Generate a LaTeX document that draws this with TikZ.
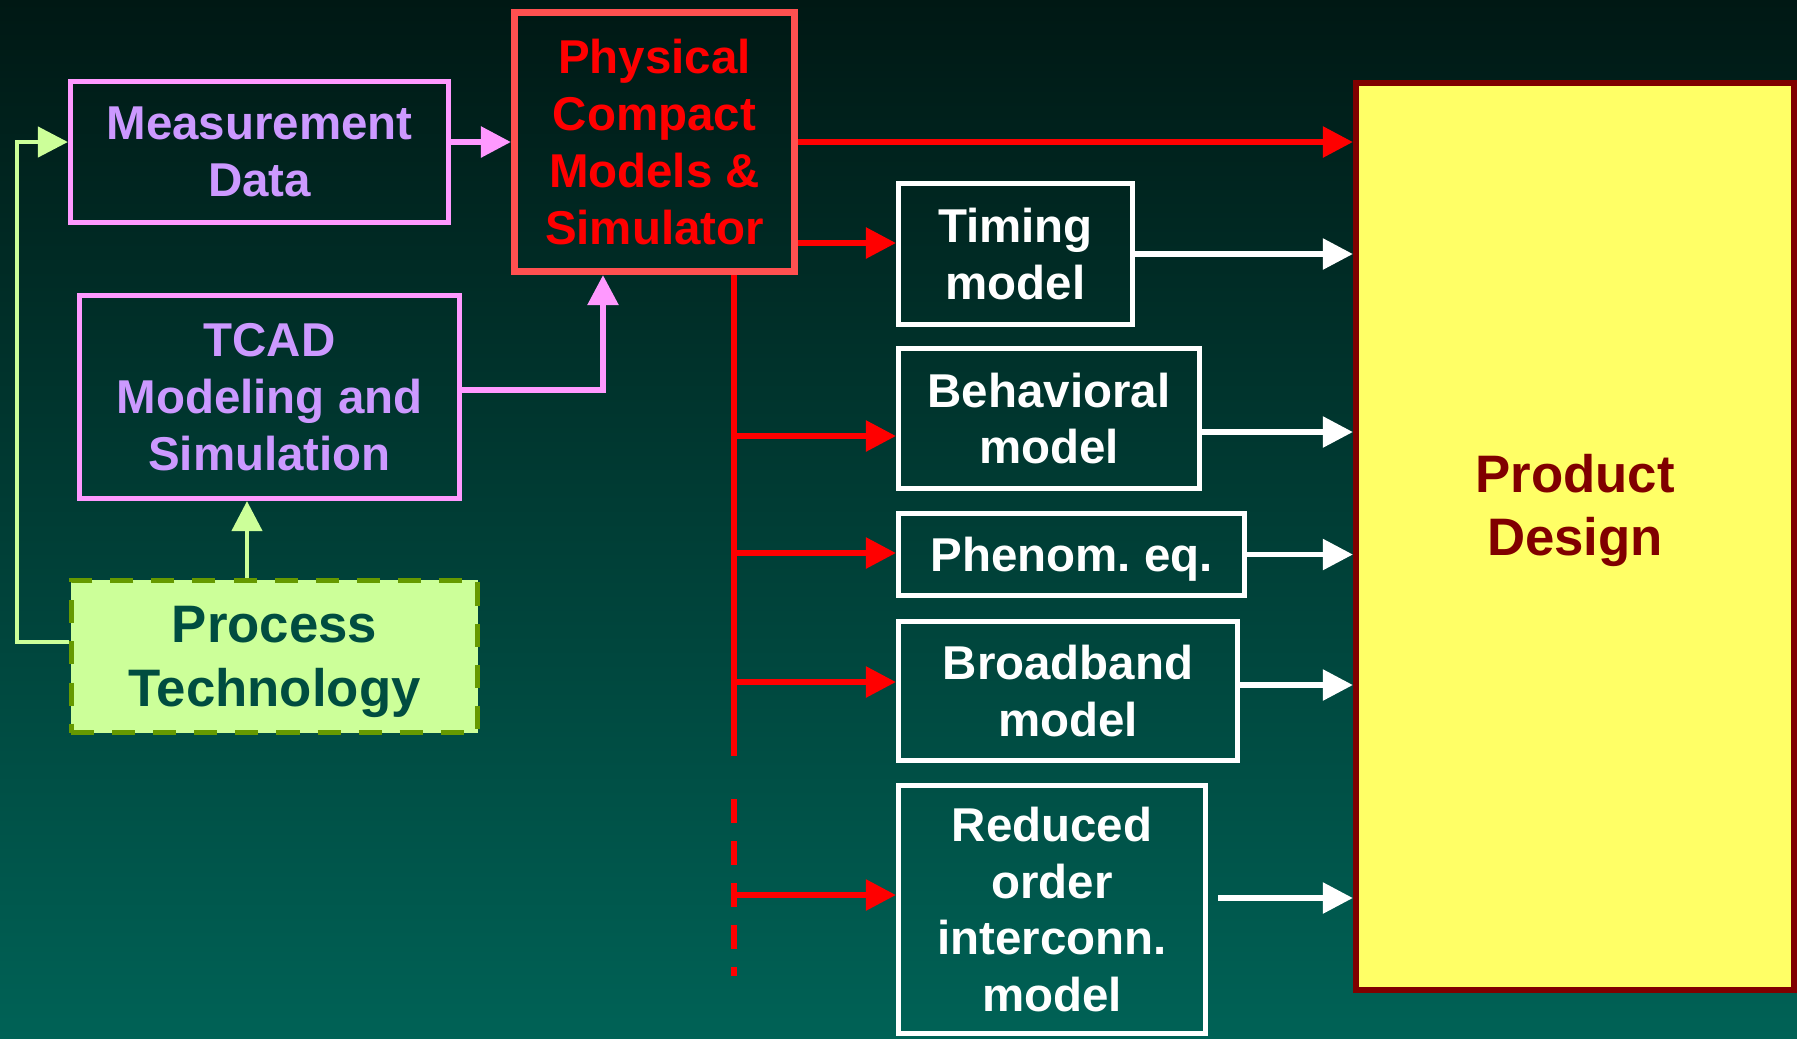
\documentclass[tikz,border=0pt]{standalone}
\usepackage{fontspec}
\setmainfont{Liberation Sans}
\usetikzlibrary{positioning,arrows.meta}
\definecolor{bgtop}{RGB}{0,24,20}
\definecolor{bgbot}{RGB}{0,98,86}
\definecolor{pinkln}{RGB}{255,153,255}
\definecolor{lavtxt}{RGB}{204,153,255}
\definecolor{physbd}{RGB}{255,80,80}
\definecolor{limefill}{RGB}{204,255,153}
\definecolor{olivebd}{RGB}{102,153,0}
\definecolor{proctxt}{RGB}{0,77,64}
\definecolor{yelfill}{RGB}{255,255,102}
\definecolor{darkred}{RGB}{128,0,0}
\tikzset{
  bx/.style={rectangle, inner sep=0pt, text centered, align=center, line width=0.05cm, font=\fontsize{13.5}{16.2}\selectfont\bfseries},
  wbox/.style={bx, draw=white, text=white},
  pbox/.style={bx, draw=pinkln, text=lavtxt},
  rbox/.style={bx, draw=physbd, text=red, line width=0.07cm},
  gbox/.style={bx, draw=olivebd, fill=limefill, text=proctxt, text depth=0pt, dash pattern=on 0.23cm off 0.18cm, font=\fontsize{15}{18.3}\selectfont\bfseries},
  ybox/.style={bx, draw=darkred, fill=yelfill, line width=0.06cm},
  ytxt/.style={text=darkred, align=center, font=\fontsize{15}{17.9}\selectfont\bfseries},
  redln/.style={draw=red, line width=0.057cm},
  redarr/.style={redln, ->},
  whitearr/.style={draw=white, line width=0.055cm, ->},
  pinkarr/.style={draw=pinkln, line width=0.057cm, ->},
  greenarr/.style={draw=limefill, line width=0.045cm, ->},
  >={Triangle[length=0.3cm,width=0.3cm]}
}
\begin{document}
\begin{tikzpicture}[x=0.01cm, y=-0.01cm]
	\useasboundingbox (0,0) rectangle (1797,1038);
	\shade[top color=bgtop, bottom color=bgbot] (0,0) rectangle (1797,1038);

	\node[pbox, minimum width=3.78cm, minimum height=1.41cm] (meas) at (259.5,152) {Measurement\\Data};
	\node[rbox, minimum width=2.80cm, minimum height=2.59cm] (phys) at (654.5,142) {Physical\\Compact\\Models \&\\Simulator};
	\node[pbox, minimum width=3.80cm, minimum height=2.03cm] (tcad) at (269.5,397) {TCAD\\Modeling and\\Simulation};
	\node[gbox, minimum width=4.06cm, minimum height=1.52cm] (proc) at (274.5,656.5) {Process\\Technology};

	\node[wbox, minimum width=2.34cm, minimum height=1.41cm] (timing) at (1015.5,254) {Timing\\model};
	\node[wbox, minimum width=3.01cm, minimum height=1.40cm] (behav) at (1049,418.5) {Behavioral\\model};
	\node[wbox, text depth=0pt, minimum width=3.46cm, minimum height=0.82cm] (phen) at (1071.5,554.5) {Phenom.\ eq.};
	\node[wbox, minimum width=3.39cm, minimum height=1.39cm] (broad) at (1068,691) {Broadband\\model};
	\node[wbox, minimum width=3.07cm, minimum height=2.48cm] (reduced) at (1052,909.5) {Reduced\\order\\interconn.\\model};

	\node[ybox, minimum width=4.38cm, minimum height=9.07cm] (prod) at (1575,536.5) {};
	\node[ytxt] (prodtxt) at (1575,510) {Product\\Design};

	\draw[pinkarr] (meas.east |- phys.west) -- (phys.west);
	\draw[pinkarr] (tcad.east |- 0,390) -| (phys.south -| 603,0);
	\draw[greenarr] (proc.north -| 247,0) -- (tcad.south -| 247,0);
	\draw[greenarr] (proc.west |- 0,642) -- ++(-52,0) |- (meas.west |- 0,142);

	\draw[redarr] (phys.east) -- (phys.east -| prod.west);
	\draw[redarr] (phys.east |- 0,243) -- (timing.west |- 0,243);
	\coordinate (busend) at (734,756);
	\coordinate (dashend) at (734,976);
	\draw[redln] (phys.south -| busend) -- (busend);
	\draw[redln, dash pattern=on 0.24cm off 0.18cm] (busend |- 0,799) -- (dashend);
	\draw[redarr] (busend |- 0,436) -- (behav.west |- 0,436);
	\draw[redarr] (busend |- 0,553) -- (phen.west |- 0,553);
	\draw[redarr] (busend |- 0,682) -- (broad.west |- 0,682);
	\draw[redarr] (busend |- 0,895) -- (reduced.west |- 0,895);

	\draw[whitearr] (timing.east) -- (timing.east -| prod.west);
	\draw[whitearr] (behav.east |- 0,432) -- (prod.west |- 0,432);
	\draw[whitearr] (phen.east) -- (phen.east -| prod.west);
	\draw[whitearr] (broad.east |- 0,685) -- (prod.west |- 0,685);
	\draw[whitearr] (reduced.east |- 0,898) ++(10,0) -- (prod.west |- 0,898);
\end{tikzpicture}
\end{document}
